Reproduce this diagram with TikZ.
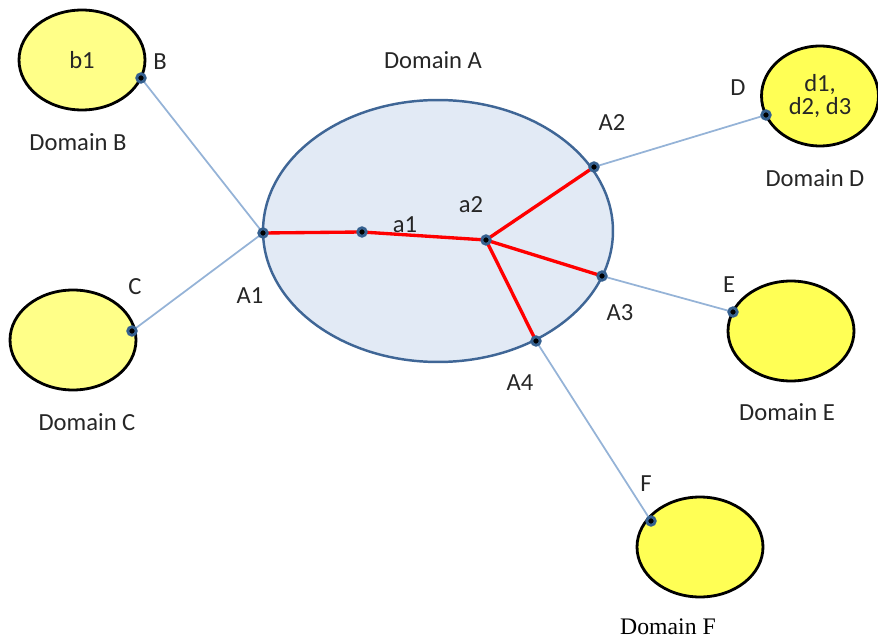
\documentclass[tikz,border=0pt]{standalone}
\usepackage{fontspec}
\setmainfont{Carlito}
\newfontfamily\timesfont{Liberation Serif}
\usetikzlibrary{shapes.geometric}

\definecolor{paleyellow}{HTML}{FFFF88}
\definecolor{brightyellow}{HTML}{FFFF55}
\definecolor{domainfill}{HTML}{E2EAF5}
\definecolor{domainline}{HTML}{3F6696}
\definecolor{linkblue}{HTML}{95B3D7}
\definecolor{dotring}{HTML}{35608F}

\begin{document}
\begin{tikzpicture}[x=0.02cm, y=-0.02cm,
  domainnode/.style={ellipse, draw=black, line width=1.6pt, inner sep=0pt,
                 minimum width=2.52cm, minimum height=2cm, align=center},
  tag/.style={font=\fontsize{14}{16}\selectfont, text=black!85},
  link/.style={linkblue, line width=1pt},
  redpath/.style={red, line width=1.9pt},
  dot/.style={circle, fill=black, draw=dotring, line width=1.6pt,
              inner sep=0pt, minimum size=0.17cm}]
\useasboundingbox (0,0) rectangle (878,638);
% domains
\node[ellipse, fill=domainfill, draw=domainline, line width=1.4pt,
      minimum width=7cm, minimum height=5.24cm] (domA) at (438,231) {};
\node[domainnode, fill=paleyellow, tag] (domB) at (82,60) {b1};
\node[domainnode, fill=paleyellow] (domC) at (73,340) {};
\node[domainnode, fill=brightyellow, tag, minimum width=2.34cm] (domD) at (820,96)
     {d1,\\[-3pt]d2, d3};
\node[domainnode, fill=brightyellow] (domE) at (791,331) {};
\node[domainnode, fill=brightyellow] (domF) at (700,547) {};
% border points
\coordinate (A1) at (263,233);
\coordinate (A2) at (594,167);
\coordinate (A3) at (602,276);
\coordinate (A4) at (536,341);
\coordinate (a1) at (362,232);
\coordinate (a2) at (486,240);
\coordinate (B) at (141,78);
\coordinate (C) at (132,331);
\coordinate (D) at (766,115);
\coordinate (E) at (733,312);
\coordinate (F) at (651,521);
% links
\draw[link] (B) -- (A1);
\draw[link] (C) -- (A1);
\draw[link] (A2) -- (D);
\draw[link] (A3) -- (E);
\draw[link] (A4) -- (F);
\draw[redpath] (A1) -- (a1) -- (a2);
\draw[redpath] (a2) -- (A2);
\draw[redpath] (a2) -- (A3);
\draw[redpath] (a2) -- (A4);
\foreach \p in {A1,A2,A3,A4,a1,a2,B,C,D,E,F}
  \node[dot] at (\p) {};
% labels
\node[tag] (labA) at (433,60) {Domain A};
\node[tag] (labB) at (78,142) {Domain B};
\node[tag] (labC) at (87,422) {Domain C};
\node[tag] (labD) at (815,178) {Domain D};
\node[tag] (labE) at (787,412) {Domain E};
\node[font=\timesfont\fontsize{13.5}{15}\selectfont] (labF) at (668,627) {Domain F};
\node[tag] (nB) at (160,62) {B};
\node[tag] (nC) at (135,287) {C};
\node[tag] (nD) at (738,88) {D};
\node[tag] (nE) at (729,285) {E};
\node[tag] (nF) at (646,484) {F};
\node[tag] (nA1) at (250,296) {A1};
\node[tag] (nA2) at (612,123) {A2};
\node[tag] (nA3) at (620,313) {A3};
\node[tag] (nA4) at (520,383) {A4};
\node[tag] (na1) at (405,225) {a1};
\node[tag] (na2) at (471,205) {a2};
\end{tikzpicture}
\end{document}
